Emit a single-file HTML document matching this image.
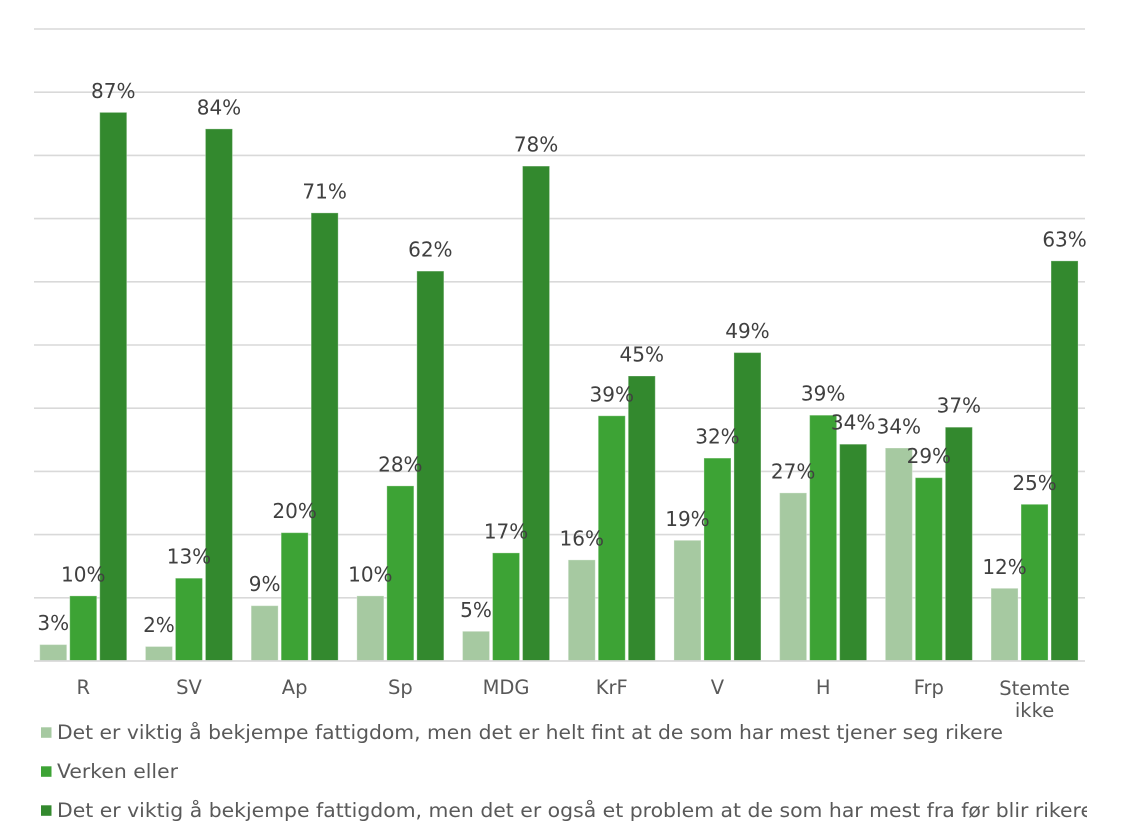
<!DOCTYPE html>
<html><head><meta charset="utf-8"><style>
html,body{margin:0;padding:0;background:#fff;}
svg{display:block;}
</style></head><body>
<svg width="1122" height="837" viewBox="0 0 1122 837" xmlns="http://www.w3.org/2000/svg">
<rect width="1122" height="837" fill="#fff"/>
<defs><clipPath id="cl"><rect x="0" y="0" width="1087" height="837"/></clipPath></defs>
<g stroke="#D9D9D9" stroke-width="1.6">
<line x1="34" y1="29" x2="1085" y2="29"/>
<line x1="34" y1="92.2" x2="1085" y2="92.2"/>
<line x1="34" y1="155.4" x2="1085" y2="155.4"/>
<line x1="34" y1="218.6" x2="1085" y2="218.6"/>
<line x1="34" y1="281.8" x2="1085" y2="281.8"/>
<line x1="34" y1="345" x2="1085" y2="345"/>
<line x1="34" y1="408.2" x2="1085" y2="408.2"/>
<line x1="34" y1="471.4" x2="1085" y2="471.4"/>
<line x1="34" y1="534.6" x2="1085" y2="534.6"/>
<line x1="34" y1="597.8" x2="1085" y2="597.8"/>
</g>
<g stroke="rgba(255,255,255,0.3)" stroke-width="1">
<!-- light -->
<g fill="#A6C9A1">
<rect x="39.75" y="644.6" width="27" height="16.4"/>
<rect x="145.45" y="646.5" width="27" height="14.5"/>
<rect x="251.15" y="605.7" width="27" height="55.3"/>
<rect x="356.85" y="595.9" width="27" height="65.1"/>
<rect x="462.55" y="631.3" width="27" height="29.7"/>
<rect x="568.25" y="559.9" width="27" height="101.1"/>
<rect x="673.95" y="540.3" width="27" height="120.7"/>
<rect x="779.65" y="492.9" width="27" height="168.1"/>
<rect x="885.35" y="448" width="27" height="213"/>
<rect x="991.05" y="588.3" width="27" height="72.7"/>
</g>
<!-- mid -->
<g fill="#3DA335">
<rect x="69.75" y="595.9" width="27" height="65.1"/>
<rect x="175.45" y="578.2" width="27" height="82.8"/>
<rect x="281.15" y="532.7" width="27" height="128.3"/>
<rect x="386.85" y="485.9" width="27" height="175.1"/>
<rect x="492.55" y="552.9" width="27" height="108.1"/>
<rect x="598.25" y="415.8" width="27" height="245.2"/>
<rect x="703.95" y="458.1" width="27" height="202.9"/>
<rect x="809.65" y="415.2" width="27" height="245.8"/>
<rect x="915.35" y="477.7" width="27" height="183.3"/>
<rect x="1021.05" y="504.3" width="27" height="156.7"/>
</g>
<!-- dark -->
<g fill="#33892E">
<rect x="99.75" y="112.4" width="27" height="548.6"/>
<rect x="205.45" y="128.9" width="27" height="532.1"/>
<rect x="311.15" y="212.9" width="27" height="448.1"/>
<rect x="416.85" y="271.1" width="27" height="389.9"/>
<rect x="522.55" y="166.1" width="27" height="494.9"/>
<rect x="628.25" y="376" width="27" height="285"/>
<rect x="733.95" y="352.6" width="27" height="308.4"/>
<rect x="839.65" y="444.2" width="27" height="216.8"/>
<rect x="945.35" y="427.2" width="27" height="233.8"/>
<rect x="1051.05" y="260.9" width="27" height="400.1"/>
</g>
</g>
<line x1="34" y1="661" x2="1085" y2="661" stroke="#D9D9D9" stroke-width="1.8"/>

<g font-family="'DejaVu Sans','Liberation Sans',sans-serif" font-size="20" fill="#404040" text-anchor="middle">
<text x="53.25" y="630.1">3%</text>
<text x="83.25" y="581.4">10%</text>
<text x="113.25" y="98">87%</text>
<text x="158.95" y="632">2%</text>
<text x="188.95" y="563.7">13%</text>
<text x="218.95" y="114.4">84%</text>
<text x="264.65" y="591.2">9%</text>
<text x="294.65" y="518.2">20%</text>
<text x="324.65" y="198.4">71%</text>
<text x="370.35" y="581.4">10%</text>
<text x="400.35" y="471.4">28%</text>
<text x="430.35" y="256.6">62%</text>
<text x="476.05" y="616.8">5%</text>
<text x="506.05" y="538.4">17%</text>
<text x="536.05" y="151.6">78%</text>
<text x="581.75" y="545.4">16%</text>
<text x="611.75" y="401.3">39%</text>
<text x="641.75" y="361.5">45%</text>
<text x="687.45" y="525.8">19%</text>
<text x="717.45" y="443.6">32%</text>
<text x="747.45" y="338.1">49%</text>
<text x="793.15" y="478.4">27%</text>
<text x="823.15" y="400.7">39%</text>
<text x="853.15" y="429.7">34%</text>
<text x="898.85" y="433.5">34%</text>
<text x="928.85" y="463.2">29%</text>
<text x="958.85" y="412.7">37%</text>
<text x="1004.55" y="573.8">12%</text>
<text x="1034.55" y="489.8">25%</text>
<text x="1064.55" y="246.4">63%</text>
</g>

<g font-family="'DejaVu Sans','Liberation Sans',sans-serif" font-size="19.5" fill="#595959" text-anchor="middle">
<text x="83.25" y="694">R</text>
<text x="188.95" y="694">SV</text>
<text x="294.65" y="694">Ap</text>
<text x="400.35" y="694">Sp</text>
<text x="506.05" y="694">MDG</text>
<text x="611.75" y="694">KrF</text>
<text x="717.45" y="694">V</text>
<text x="823.15" y="694">H</text>
<text x="928.85" y="694">Frp</text>
<text x="1034.55" y="695">Stemte</text>
<text x="1034.55" y="717">ikke</text>
</g>

<rect x="41" y="727.3" width="10.5" height="10.5" fill="#A6C9A1"/>
<rect x="41" y="766.3" width="10.5" height="10.5" fill="#3DA335"/>
<rect x="41" y="805.3" width="10.5" height="10.5" fill="#33892E"/>
<g font-family="'DejaVu Sans','Liberation Sans',sans-serif" font-size="19.5" fill="#595959" clip-path="url(#cl)">
<text x="57" y="739" textLength="946" lengthAdjust="spacingAndGlyphs">Det er viktig å bekjempe fattigdom, men det er helt fint at de som har mest tjener seg rikere</text>
<text x="57" y="778" textLength="121" lengthAdjust="spacingAndGlyphs">Verken eller</text>
<text x="57" y="817" textLength="1036" lengthAdjust="spacingAndGlyphs">Det er viktig å bekjempe fattigdom, men det er også et problem at de som har mest fra før blir rikere</text>
</g>
</svg>
</body></html>
